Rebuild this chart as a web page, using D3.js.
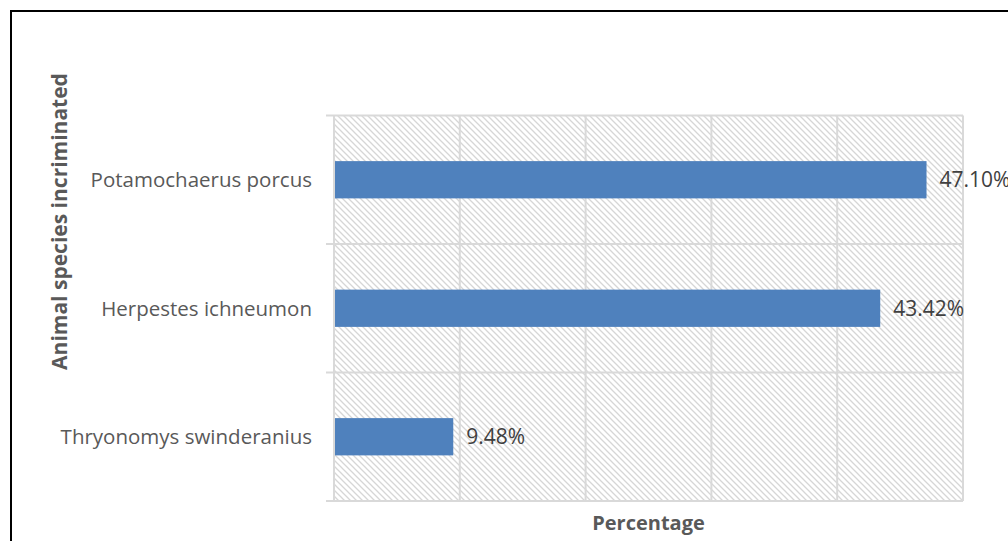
<!DOCTYPE html>
<html>
<head>
<meta charset="utf-8">
<script src="https://cdn.jsdelivr.net/npm/d3@7"></script>
<style>
html,body{margin:0;padding:0;background:#fff;overflow:hidden;}
svg{display:block;}
text{font-family:"Open Sans","Noto Sans",sans-serif;}
</style>
</head>
<body>
<svg id="chart" width="1008" height="541"></svg>
<script>
const categories = ["Potamochaerus porcus", "Herpestes ichneumon", "Thryonomys swinderanius"];
const values = [47.10, 43.42, 9.48];
const valueLabels = ["47.10%", "43.42%", "9.48%"];
const xTicks = [0, 10, 20, 30, 40, 50];
const xTitle = "Percentage";
const yTitle = "Animal species incriminated";

const svg = d3.select("#chart");
const W = 1008, H = 541;
const m = {left: 334, right: 963, top: 115.5, bottom: 501};

// outer border
svg.append("rect").attr("x", 11).attr("y", 11).attr("width", W + 10).attr("height", H + 10)
  .attr("fill", "#fff").attr("stroke", "#000").attr("stroke-width", 2);

// hatch pattern
const defs = svg.append("defs");
const pat = defs.append("pattern").attr("id", "hatch").attr("patternUnits", "userSpaceOnUse")
  .attr("width", 6).attr("height", 6);
pat.append("rect").attr("width", 6).attr("height", 6).attr("fill", "#fff");
pat.append("path").attr("d", "M-1,-1 L7,7 M-1,5 L1,7 M5,-1 L7,1")
  .attr("stroke", "#d6d6d6").attr("stroke-width", 1.3);

const x = d3.scaleLinear().domain([xTicks[0], xTicks[xTicks.length - 1]]).range([m.left, m.right]);
const y = d3.scaleBand().domain(categories).range([m.top, m.bottom]).padding(0);

// plot area fill
svg.append("rect").attr("x", m.left).attr("y", m.top).attr("width", m.right - m.left)
  .attr("height", m.bottom - m.top).attr("fill", "url(#hatch)");

// vertical gridlines
svg.append("g").selectAll("line").data(xTicks).join("line")
  .attr("x1", d => x(d)).attr("x2", d => x(d))
  .attr("y1", m.top).attr("y2", m.bottom)
  .attr("stroke", "#d9d9d9").attr("stroke-width", 2);

// category boundary lines (with outside tick marks)
const bounds = categories.map(c => y(c)).concat([y(categories[categories.length - 1]) + y.bandwidth()]);
svg.append("g").selectAll("line").data(bounds).join("line")
  .attr("x1", m.left - 8).attr("x2", m.right)
  .attr("y1", d => d).attr("y2", d => d)
  .attr("stroke", "#d9d9d9").attr("stroke-width", 2);

// bars
const bh = y.bandwidth() * 0.29;
svg.append("g").selectAll("rect").data(values).join("rect")
  .attr("x", x(0) + 1)
  .attr("y", (d, i) => y(categories[i]) + (y.bandwidth() - bh) / 2)
  .attr("width", d => x(d) - x(0) - 1)
  .attr("height", bh)
  .attr("fill", "#4f81bd");

// value labels
svg.append("g").selectAll("text").data(values).join("text")
  .attr("x", d => x(d) + 13)
  .attr("y", (d, i) => y(categories[i]) + y.bandwidth() / 2)
  .attr("dy", "0.36em")
  .attr("font-size", 21)
  .attr("fill", "#404040")
  .text((d, i) => valueLabels[i]);

// category labels
svg.append("g").selectAll("text").data(categories).join("text")
  .attr("x", m.left - 22)
  .attr("y", d => y(d) + y.bandwidth() / 2)
  .attr("dy", "0.36em")
  .attr("text-anchor", "end")
  .attr("font-size", 20.5)
  .attr("fill", "#595959")
  .text(d => d);

// x title
svg.append("text").attr("x", (m.left + m.right) / 2).attr("y", 530)
  .attr("text-anchor", "middle").attr("font-size", 20).attr("font-weight", "bold")
  .attr("fill", "#595959").text(xTitle);

// y title
svg.append("text").attr("transform", "translate(67,221.5) rotate(-90)")
  .attr("text-anchor", "middle").attr("font-size", 21).attr("font-weight", "bold")
  .attr("fill", "#595959").text(yTitle);
</script>
</body>
</html>
